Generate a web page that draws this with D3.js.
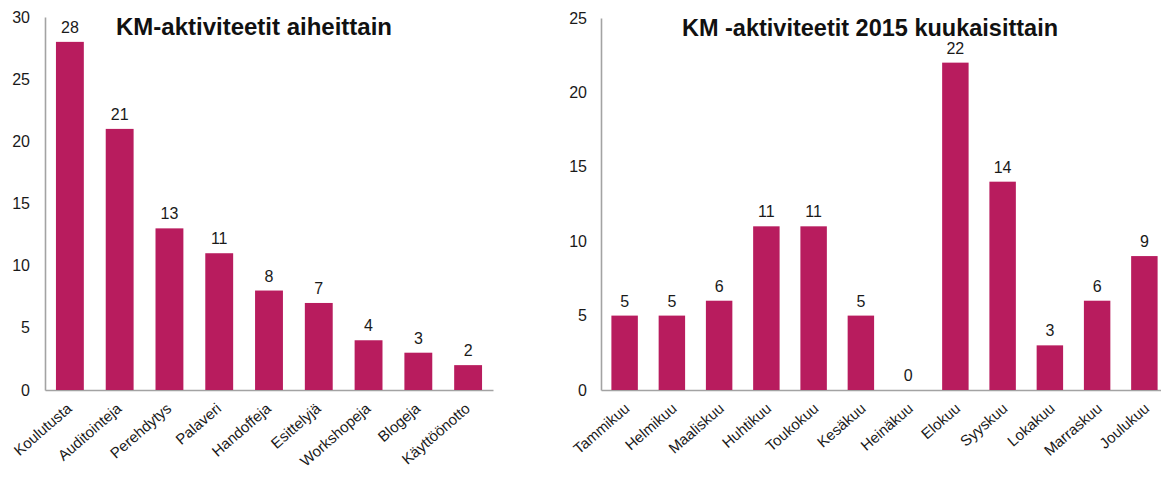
<!DOCTYPE html>
<html>
<head>
<meta charset="utf-8">
<script src="https://cdn.jsdelivr.net/npm/d3@7"></script>
<style>
  html, body { margin: 0; padding: 0; background: #fff; overflow: hidden; }
  svg { display: block; font-family: Arial, "Liberation Sans", sans-serif; }
</style>
</head>
<body>
<svg id="chart" width="1161" height="481"></svg>
<script>
// Activities by topic
const topicCategories = ["Koulutusta", "Auditointeja", "Perehdytys", "Palaveri", "Handoffeja",
  "Esittelyjä", "Workshopeja", "Blogeja", "Käyttöönotto"];
const topicValues = [28, 21, 13, 11, 8, 7, 4, 3, 2];
const topicTicks = [0, 5, 10, 15, 20, 25, 30];

// Activities by month, 2015
const monthCategories = ["Tammikuu", "Helmikuu", "Maaliskuu", "Huhtikuu", "Toukokuu", "Kesäkuu",
  "Heinäkuu", "Elokuu", "Syyskuu", "Lokakuu", "Marraskuu", "Joulukuu"];
const monthValues = [5, 5, 6, 11, 11, 5, 0, 22, 14, 3, 6, 9];
const monthTicks = [0, 5, 10, 15, 20, 25];

const barColor = "#b81c5e";
const axisColor = "#a3a3a3";
const textColor = "#1a1a1a";
const svg = d3.select("#chart");

function drawPanel(opts) {
  const g = svg.append("g");
  const x = d3.scaleBand()
    .domain(opts.categories)
    .range([opts.x0, opts.x1])
    .paddingInner(opts.padding)
    .paddingOuter(opts.padding / 2);
  const y = d3.scaleLinear()
    .domain([0, opts.max])
    .range([opts.y0, opts.y1]);

  // y axis: line and tick labels, no tick marks
  const yAxis = d3.axisLeft(y).tickValues(opts.ticks).tickSize(0).tickPadding(opts.tickPad);
  const ya = g.append("g").attr("transform", `translate(${opts.x0},0)`).call(yAxis);
  ya.select(".domain").attr("stroke", axisColor).attr("stroke-width", 1.6);
  ya.selectAll("text").attr("font-size", 16).attr("fill", textColor)
    .attr("font-family", "Arial, 'Liberation Sans', sans-serif");

  // x axis line
  const xAxis = d3.axisBottom(x).tickSize(0).tickSizeOuter(0).tickFormat("");
  const xa = g.append("g").attr("transform", `translate(0,${opts.y0})`).call(xAxis);
  xa.select(".domain").attr("stroke", axisColor).attr("stroke-width", 1.6);

  // bars
  g.selectAll("rect.bar")
    .data(opts.values)
    .join("rect")
    .attr("class", "bar")
    .attr("x", (d, i) => x(opts.categories[i]))
    .attr("width", x.bandwidth())
    .attr("y", d => y(d))
    .attr("height", d => opts.y0 - y(d))
    .attr("fill", barColor);

  // value labels
  g.selectAll("text.val")
    .data(opts.values)
    .join("text")
    .attr("class", "val")
    .attr("x", (d, i) => x(opts.categories[i]) + x.bandwidth() / 2)
    .attr("y", d => y(d) - 9)
    .attr("text-anchor", "middle")
    .attr("font-size", 16)
    .attr("fill", textColor)
    .text(d => d);

  // category labels, rotated
  g.selectAll("text.cat")
    .data(opts.categories)
    .join("text")
    .attr("class", "cat")
    .attr("text-anchor", "end")
    .attr("font-size", 15)
    .attr("fill", textColor)
    .attr("transform", d => `translate(${x(d) + x.bandwidth() / 2 + opts.labelDx},${opts.y0 + 20}) rotate(-41)`)
    .text(d => d);

  // title
  g.append("text")
    .attr("x", opts.titleX)
    .attr("y", opts.titleY)
    .attr("text-anchor", "middle")
    .attr("font-size", opts.titleSize)
    .attr("font-weight", "bold")
    .attr("fill", "#111")
    .text(opts.title);
}

drawPanel({
  categories: topicCategories, values: topicValues, ticks: topicTicks, max: 30,
  x0: 45, x1: 493, y0: 390, y1: 17, padding: 0.44, tickPad: 15, labelDx: 3,
  title: "KM-aktiviteetit aiheittain", titleX: 254, titleY: 35, titleSize: 24
});

drawPanel({
  categories: monthCategories, values: monthValues, ticks: monthTicks, max: 25,
  x0: 601, x1: 1168, y0: 390, y1: 18, padding: 0.44, tickPad: 14, labelDx: 6,
  title: "KM -aktiviteetit 2015 kuukaisittain", titleX: 870, titleY: 36, titleSize: 23.5
});
</script>
</body>
</html>
